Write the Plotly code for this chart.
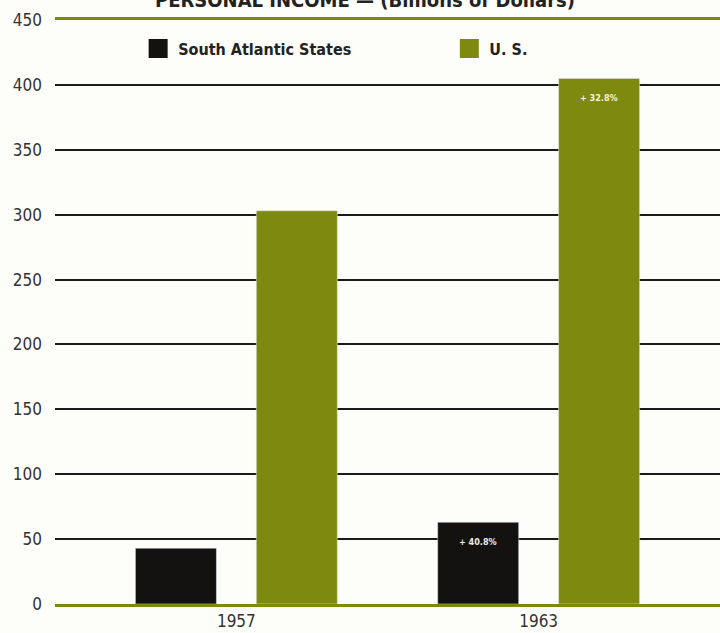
import plotly.graph_objects as go

years = ["1957", "1963"]
south_atlantic = [43, 63]
us_total = [303, 405]
sa_labels = ["", "+ 40.8%"]
us_labels = ["", "+ 32.8%"]
y_ticks = [0, 50, 100, 150, 200, 250, 300, 350, 400, 450]

BLACK = "#141210"
GREEN = "#7e8a0f"
FONT = "DejaVu Sans Condensed"

xs = list(range(len(years)))

fig = go.Figure()
fig.add_trace(go.Bar(x=xs, y=south_atlantic, name="South Atlantic States",
                     marker_color=BLACK, showlegend=False))
fig.add_trace(go.Bar(x=xs, y=us_total, name="U. S.",
                     marker_color=GREEN, showlegend=False))
# legend entries
fig.add_trace(go.Scatter(x=[None], y=[None], mode="markers", name="South Atlantic States",
                         marker=dict(symbol="square", size=18, color=BLACK,
                                     line=dict(width=3, color=BLACK)), legend="legend"))
fig.add_trace(go.Scatter(x=[None], y=[None], mode="markers", name="U. S.",
                         marker=dict(symbol="square", size=18, color=GREEN,
                                     line=dict(width=3, color=GREEN)), legend="legend2"))

off = 0.2
for i, t in enumerate(sa_labels):
    if t:
        fig.add_annotation(x=xs[i] - off, y=south_atlantic[i], text="<b>" + t + "</b>",
                           showarrow=False, yshift=-20,
                           font=dict(family=FONT, size=9, color="#eeeeee"))
for i, t in enumerate(us_labels):
    if t:
        fig.add_annotation(x=xs[i] + off, y=us_total[i], text="<b>" + t + "</b>",
                           showarrow=False, yshift=-20,
                           font=dict(family=FONT, size=9, color="#f4f4d8"))

fig.add_annotation(xref="paper", yref="paper", x=0.466, y=1, yshift=6, yanchor="bottom",
                   text="<b>PERSONAL INCOME — (Billions of Dollars)</b>", showarrow=False,
                   font=dict(family=FONT, size=20, color="#222"))

leg_common = dict(orientation="h", yanchor="top", xanchor="left", y=0.98,
                  bgcolor="rgba(0,0,0,0)", itemsizing="trace",
                  font=dict(family=FONT, size=16, color="#222", weight="bold"))

fig.update_layout(
    width=720, height=633,
    margin=dict(l=55, r=0, t=20, b=29),
    paper_bgcolor="#fdfdfa", plot_bgcolor="#fdfdfa",
    barmode="group", bargap=0.2, bargroupgap=0.33,
    font=dict(family=FONT, size=14, color="#333"),
    showlegend=True,
    legend=dict(x=0.125, **leg_common),
    legend2=dict(x=0.593, **leg_common),
)
fig.update_xaxes(range=[-0.6, 1.6], tickvals=xs, ticktext=years, showgrid=False,
                 zeroline=False, showline=True, mirror=True, linecolor=GREEN, linewidth=3,
                 ticks="", tickfont=dict(family=FONT, size=17, color="#333"))
fig.update_yaxes(range=[0, 450], tickvals=y_ticks, showgrid=True, gridcolor="#1a1a1a",
                 gridwidth=1.5, zeroline=False, showline=False, ticks="",
                 ticklabelstandoff=12, tickfont=dict(family=FONT, size=17, color="#333"))

fig.write_html("out.html")
